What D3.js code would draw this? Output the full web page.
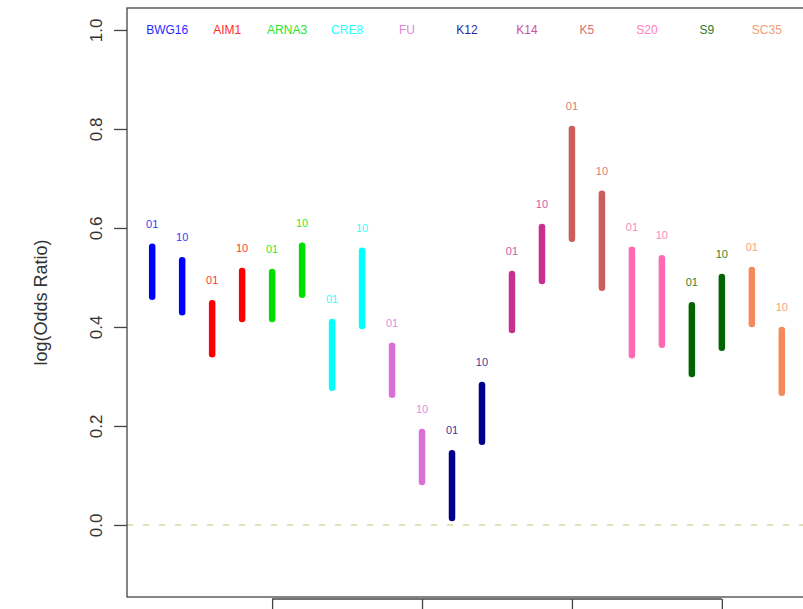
<!DOCTYPE html>
<html>
<head>
<meta charset="utf-8">
<script src="https://cdn.jsdelivr.net/npm/d3@7"></script>
<style>
  body { margin: 0; background: #fff; }
  svg { display: block; font-family: "Liberation Sans", Arial, Helvetica, sans-serif; }
</style>
</head>
<body>
<div id="chart"></div>
<script>

// Groups (legend labels) and their colours
const groups = ['BWG16','AIM1','ARNA3','CRE8','FU','K12','K14','K5','S20','S9','SC35']
const groupColors = ['#0000ff','#ff0000','#00e000','#00ffff','#da70d6','#00008b','#c8308f','#cd5c5c','#ff69b4','#006400','#f38a5c']

// Two sub-series per group
const subLabels = ['01','10']

// Interval ends, two per group (01 then 10)
const lowValues  = [0.461,0.430, 0.345,0.416, 0.416,0.465, 0.277,0.402, 0.263,0.087, 0.014,0.168,
                    0.394,0.493, 0.578,0.479, 0.343,0.364, 0.305,0.358, 0.406,0.267]
const highValues = [0.562,0.535, 0.448,0.513, 0.511,0.564, 0.410,0.554, 0.362,0.188, 0.145,0.283,
                    0.507,0.602, 0.800,0.669, 0.556,0.539, 0.444,0.501, 0.515,0.394]

const yTicks = [0, 0.2, 0.4, 0.6, 0.8, 1.0]
const xTicks = [5, 10, 15, 20]

var width = 803, height = 609
var box = {left: 127, right: 807, top: 8, bottom: 597}

// build one record per bar
var bars = lowValues.map((d,i)=>{
  return {
    x: i+1,
    lo: d,
    hi: highValues[i],
    label: subLabels[i%2],
    color: groupColors[Math.floor(i/2)]
  }
})

var xScale = d3.scaleLinear()
    .domain([0.16, 22.84])
    .range([box.left, box.right])

var yScale = d3.scaleLinear()
    .domain([-0.1455, 1.0444])
    .range([box.bottom, box.top])

var svg = d3.select('#chart').append('svg')
    .attr('width', width)
    .attr('height', height)

// zero reference line
svg.append('line')
    .attr('x1', box.left).attr('x2', box.right)
    .attr('y1', yScale(0)).attr('y2', yScale(0))
    .attr('stroke', '#dcd8a4')
    .attr('stroke-width', 1.6)
    .attr('stroke-dasharray', '6,10')

// bars
svg.append('g')
  .selectAll('line')
    .data(bars)
  .enter().append('line')
    .attr('x1', d=>xScale(d.x)).attr('x2', d=>xScale(d.x))
    .attr('y1', d=>yScale(d.lo)).attr('y2', d=>yScale(d.hi))
    .attr('stroke', d=>d.color)
    .attr('stroke-width', 6.5)
    .attr('stroke-linecap', 'round')

// 01 / 10 labels above bars
svg.append('g')
  .selectAll('text')
    .data(bars)
  .enter().append('text')
    .attr('x', d=>xScale(d.x))
    .attr('y', d=>yScale(d.hi) - 19)
    .attr('text-anchor', 'middle')
    .attr('font-size', '11px')
    .attr('fill', d=>d.color)
    .attr('opacity', 0.8)
    .text(d=>d.label)

// legend across the top, centred between each pair
svg.append('g')
  .selectAll('text')
    .data(groups)
  .enter().append('text')
    .attr('x', (d,i)=>xScale(i*2 + 1.5))
    .attr('y', 34)
    .attr('text-anchor', 'middle')
    .attr('font-size', '12px')
    .attr('fill', (d,i)=>groupColors[i])
    .attr('opacity', 0.85)
    .text(d=>d)

// plot box
svg.append('rect')
    .attr('x', box.left).attr('y', box.top)
    .attr('width', box.right - box.left)
    .attr('height', box.bottom - box.top)
    .attr('fill', 'none')
    .attr('stroke', '#444')
    .attr('stroke-width', 1.3)

// y axis
var yAxis = svg.append('g')
    .attr('transform', 'translate(' + box.left + ',0)')
    .call(d3.axisLeft(yScale).tickValues(yTicks).tickSize(13).tickFormat(d3.format('.1f')))
yAxis.select('.domain').remove()
yAxis.selectAll('line').attr('stroke', '#444').attr('stroke-width', 1.3)
yAxis.selectAll('text')
    .attr('x', 0).attr('y', -25).attr('dy', null)
    .attr('transform', 'rotate(-90)')
    .attr('text-anchor', 'middle')
    .attr('font-size', '17px')
    .attr('font-family', '"Liberation Sans", Arial, sans-serif')
    .attr('fill', '#333')

// x axis (labels fall outside the picture)
var xAxis = svg.append('g')
    .attr('transform', 'translate(0,' + (box.bottom + 2) + ')')
    .call(d3.axisBottom(xScale).tickValues(xTicks).tickSize(14).tickFormat(''))
xAxis.select('.domain').remove()
xAxis.selectAll('line').attr('stroke', '#444').attr('stroke-width', 1.3)
xAxis.append('line')
    .attr('x1', xScale(xTicks[0])).attr('x2', xScale(xTicks[xTicks.length-1]))
    .attr('stroke', '#444').attr('stroke-width', 1.3)

// y title
svg.append('text')
    .attr('transform', 'translate(47,' + ((box.top + box.bottom)/2) + ') rotate(-90)')
    .attr('text-anchor', 'middle')
    .attr('font-size', '18px')
    .attr('fill', '#333')
    .text('log(Odds Ratio)')

</script>
</body>
</html>
